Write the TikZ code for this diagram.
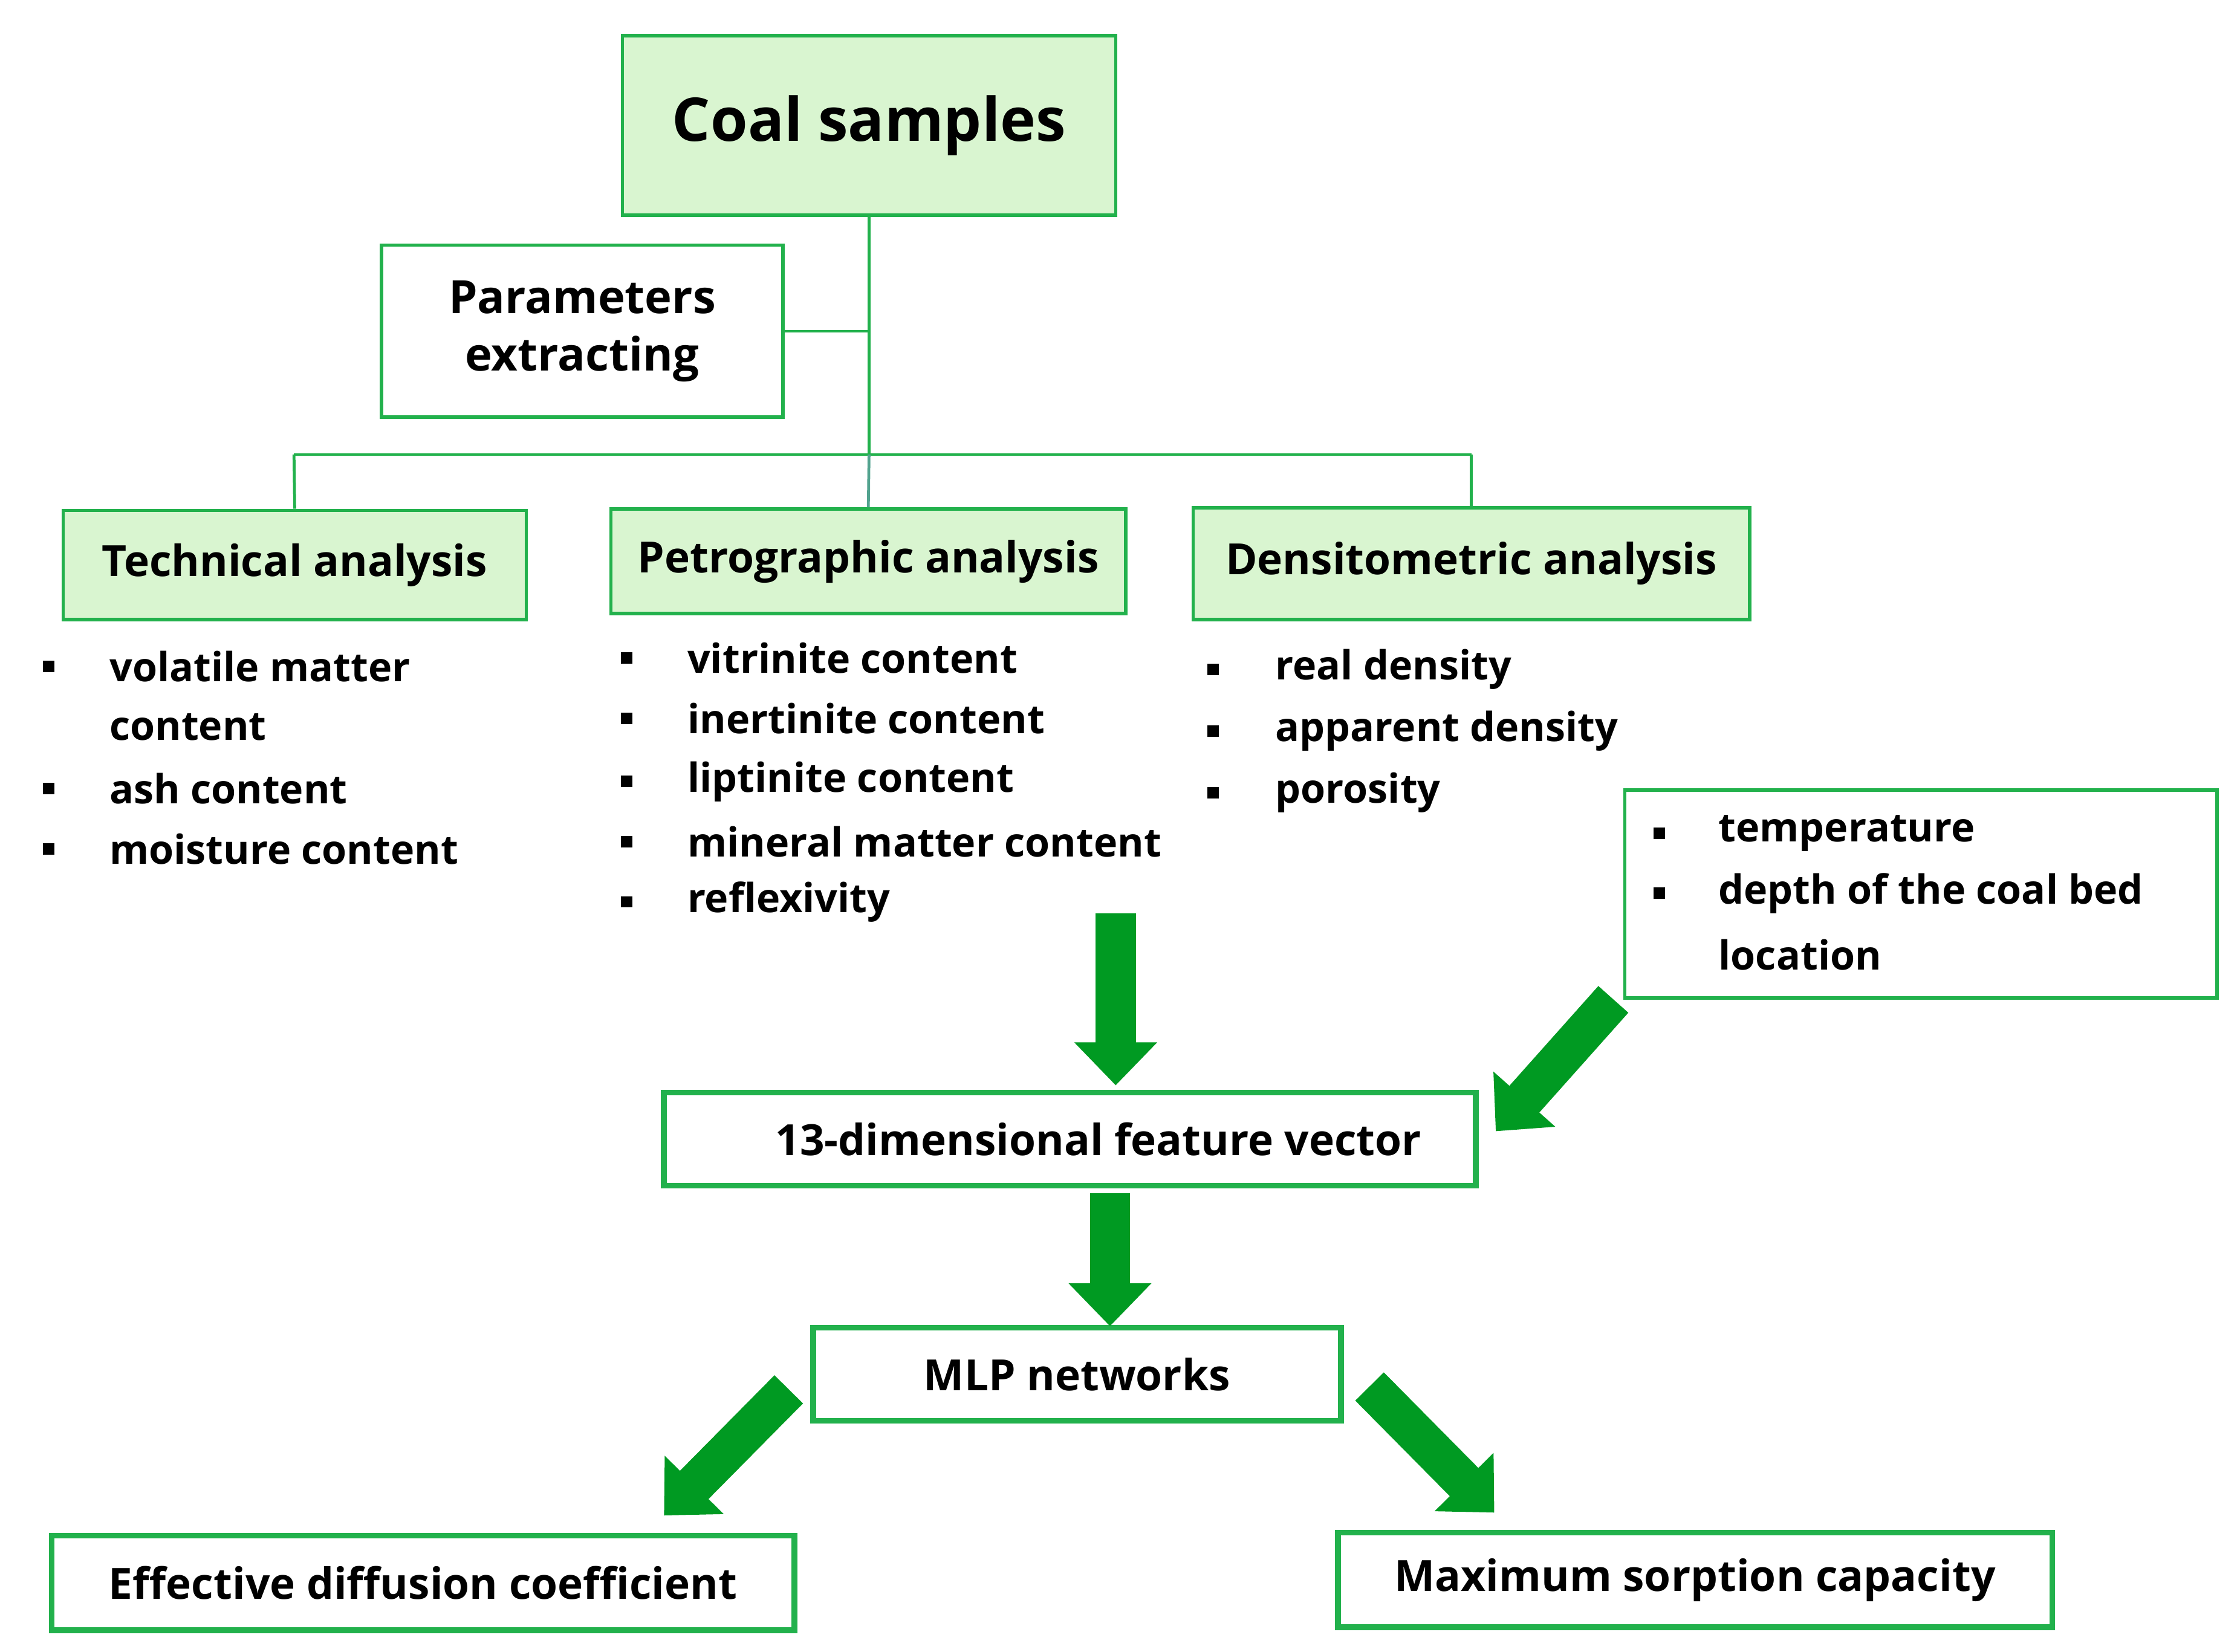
\documentclass[tikz,border=0pt]{standalone}
\usepackage{fontspec}
\setmainfont{Open Sans}
\usetikzlibrary{arrows.meta}
\definecolor{gb}{HTML}{22B14C}
\definecolor{gf}{HTML}{D9F5D0}
\definecolor{ga}{HTML}{009A22}
\begin{document}
\begin{tikzpicture}[x=0.5pt,y=-0.5pt,
  box/.style={draw=gb,line width=1.2pt,inner sep=0pt,font=\bfseries\fontsize{15}{18}\selectfont},
  tbox/.style={draw=gb,line width=2pt,inner sep=0pt,font=\bfseries\fontsize{15}{18}\selectfont},
  it/.style={anchor=west,font=\bfseries\fontsize{14}{17}\selectfont,inner sep=0pt},
  bl/.style={fill=black,minimum size=4pt,inner sep=0pt},
  ln/.style={gb,line width=1pt},
  big/.style={ga,line width=14pt,-{Triangle[length=15pt,width=28pt]}}]
\useasboundingbox (0,0) rectangle (1562,1152);
\node[box,fill=gf,minimum width=172pt,minimum height=62.5pt,font=\bfseries\fontsize{21}{25}\selectfont] (coal) at (606,87.5) {Coal samples};
\node[box,minimum width=140pt,minimum height=60pt,align=center,font=\bfseries\fontsize{16}{20}\selectfont] (par) at (406,231) {Parameters\\extracting};
\node[box,fill=gf,minimum width=161.5pt,minimum height=38pt] (tech) at (205.5,394) {Technical analysis};
\node[box,fill=gf,minimum width=179.5pt,minimum height=36.5pt] (pet) at (605.5,391.5) {Petrographic analysis};
\node[box,fill=gf,minimum width=194pt,minimum height=39pt] (den) at (1026,393) {Densitometric analysis};
\coordinate (j) at (606,317);
\draw[ln] (coal.south) -- (j);
\draw[ln] (par.east) -- (606,231);
\draw[ln] (205,317) -- (1026,317);
\draw[ln] (205,317) -- (tech.north);
\draw[ln] (1026,317) -- (den.north);
\draw[line width=1pt,color=gb!50!cyan!40!gray] (j) -- (pet.north);
\foreach \t/\y in {volatile matter/465,ash content/550,moisture content/592}{\node[bl] at (34,\y) {};\node[it] at (76,\y) {\t};}
\node[it] at (76,507) {content};
\foreach \t/\y in {vitrinite content/459,inertinite content/501,liptinite content/545,mineral matter content/587,reflexivity/629}{\node[bl] at (437,\y) {};\node[it] at (479,\y) {\t};}
\foreach \t/\y in {real density/467,apparent density/510,porosity/553}{\node[bl] at (846,\y) {};\node[it] at (889,\y) {\t};}
\node[box,minimum width=206.5pt,minimum height=72.5pt] (temp) at (1339.5,623.5) {};
\foreach \t/\y in {temperature/581,depth of the coal bed/623}{\node[bl] at (1157,\y) {};\node[it] at (1198,\y) {\t};}
\node[it] at (1198,666) {location};
\node[tbox,minimum width=283pt,minimum height=32.5pt] (fv) at (746,794.5) {\hspace*{20pt}13-dimensional feature vector};
\node[tbox,minimum width=184pt,minimum height=32.5pt] (mlp) at (751,958.5) {MLP networks};
\node[tbox,minimum width=259pt,minimum height=33pt] (eff) at (295,1104) {Effective diffusion coefficient};
\node[tbox,minimum width=249pt,minimum height=33pt] (max) at (1182,1102) {Maximum sorption capacity};
\coordinate (a1) at (778,637); \coordinate (a1t) at (778,757);
\draw[big] (a1) -- (a1t);
\coordinate (a2) at (774,832); \coordinate (a2t) at (774,925);
\draw[big] (a2) -- (a2t);
\coordinate (d1) at (1125,697); \coordinate (d1t) at (1043,789);
\draw[big] (d1) -- (d1t);
\coordinate (d2) at (550,969); \coordinate (d2t) at (463,1057);
\draw[big] (d2) -- (d2t);
\coordinate (d3) at (955,967); \coordinate (d3t) at (1042,1055);
\draw[big] (d3) -- (d3t);
\end{tikzpicture}
\end{document}
